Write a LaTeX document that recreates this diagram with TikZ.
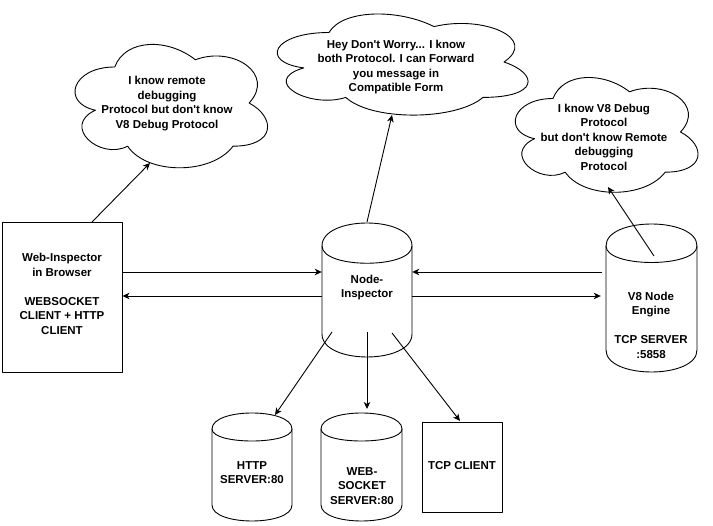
\documentclass[tikz,border=0pt]{standalone}
\usepackage{fontspec}
\setmainfont{Liberation Sans}[Ligatures=TeXOff]
\usetikzlibrary{arrows.meta,calc}
\tikzset{
  lbl/.style={font=\fontsize{11.5}{14.5}\selectfont\bfseries, align=center, inner sep=0pt},
  outline/.style={draw=black, line width=0.9pt, line join=round},
  arr/.style={draw=black, line width=0.9pt, -{Stealth[length=7pt,width=6.5pt,inset=2pt]}},
  boxnode/.style={outline, inner sep=0pt},
}
% cylinder: name, x, y, w, h, dy
\newcommand{\mycyl}[6]{%
  \draw[outline] ({#2},{#3+#6}) .. controls ({#2},{#3-#6/3}) and ({#2+#4},{#3-#6/3}) .. ({#2+#4},{#3+#6})
     -- ({#2+#4},{#3+#5-#6}) .. controls ({#2+#4},{#3+#5+#6/3}) and ({#2},{#3+#5+#6/3}) .. ({#2},{#3+#5-#6}) -- cycle;
  \draw[outline] ({#2},{#3+#6}) .. controls ({#2},{#3+2*#6}) and ({#2+#4},{#3+2*#6}) .. ({#2+#4},{#3+#6});
  \node[inner sep=0pt, minimum width=#4, minimum height=#5] (#1) at ({#2+#4/2},{#3+#5/2}) {};
}
% cloud: x0, y0, w, h, name
\newcommand{\mycloud}[5]{%
  \draw[outline] ({#1+0.25*#3},{#2+0.25*#4})
    .. controls ({#1+0.05*#3},{#2+0.25*#4}) and ({#1},{#2+0.5*#4}) .. ({#1+0.16*#3},{#2+0.55*#4})
    .. controls ({#1},{#2+0.66*#4}) and ({#1+0.18*#3},{#2+0.9*#4}) .. ({#1+0.31*#3},{#2+0.8*#4})
    .. controls ({#1+0.4*#3},{#2+#4}) and ({#1+0.7*#3},{#2+#4}) .. ({#1+0.8*#3},{#2+0.8*#4})
    .. controls ({#1+#3},{#2+0.8*#4}) and ({#1+#3},{#2+0.6*#4}) .. ({#1+0.875*#3},{#2+0.5*#4})
    .. controls ({#1+#3},{#2+0.3*#4}) and ({#1+0.8*#3},{#2+0.1*#4}) .. ({#1+0.625*#3},{#2+0.2*#4})
    .. controls ({#1+0.5*#3},{#2+0.05*#4}) and ({#1+0.3*#3},{#2+0.05*#4}) .. ({#1+0.25*#3},{#2+0.25*#4})
    -- cycle;
  \node[inner sep=0pt, minimum width=#3, minimum height=#4] (#5) at ({#1+0.5*#3},{#2+0.5*#4}) {};
}
\begin{document}
\begin{tikzpicture}[x=1pt, y=-1pt]
  \useasboundingbox[fill=white] (0,0) rectangle (713,526);

  % clouds
  \mycloud{61}{31}{215}{144}{cloudA}
  \mycloud{259}{3}{280}{118}{cloudB}
  \mycloud{502}{65}{204}{134}{cloudC}
  \node[lbl] (tA) at (167,103.5) {I know remote\\debugging\\Protocol but don't know\\V8 Debug Protocol};
  \node[lbl] (tB) at (396,67) {Hey Don't Worry... I know\\both Protocol. I can Forward\\you message in\\Compatible Form};
  \node[lbl] (tC) at (604,137) {I know V8 Debug\\Protocol\\but don't know Remote\\debugging\\Protocol};

  % boxes
  \node[boxnode, minimum width=120, minimum height=150] (wi) at (62,297) {};
  \node[lbl] (twi) at (62,294) {Web-Inspector\\in Browser\\[14.5pt]WEBSOCKET\\CLIENT + HTTP\\CLIENT};
  \node[boxnode, minimum width=80, minimum height=90] (tcp) at (462,467) {};
  \node[lbl] (ttcp) at (462,466) {TCP CLIENT};

  % cylinders
  \mycyl{ni}{322}{223}{90}{134}{23}
  \mycyl{v8}{606}{224}{91}{148}{22}
  \mycyl{http}{212}{413}{80}{108}{16}
  \mycyl{ws}{321}{413}{81}{108}{16}
  \node[lbl] (tni) at (367,287.5) {Node-\\Inspector};
  \node[lbl] (tv8) at (651,325) {V8 Node\\Engine\\[14.5pt]TCP SERVER\\:5858};
  \node[lbl] (thttp) at (252,472.5) {HTTP\\SERVER:80};
  \node[lbl] (tws) at (362,486) {WEB-\\SOCKET\\SERVER:80};

  % horizontal connectors
  \coordinate (ya) at (0,272);
  \coordinate (yb) at (0,296);
  \draw[arr] (wi.east |- ya) -- (ni.west |- ya);
  \draw[arr] (ni.west |- yb) -- (wi.east |- yb);
  \draw[arr] ($(v8.west |- ya)+(-4,0)$) -- (ni.east |- ya);
  \draw[arr] (ni.east |- yb) -- ($(v8.west |- yb)+(-5,0)$);

  % connectors to clouds
  \coordinate (wiTop) at (92,222);
  \coordinate (cA) at (150,163);
  \draw[arr] (wiTop) -- (cA);
  \coordinate (niTop) at (367,222);
  \coordinate (cB) at (392,115);
  \draw[arr] (niTop) -- (cB);
  \coordinate (v8In) at (654,256);
  \coordinate (cC) at (608,187);
  \draw[arr] (v8In) -- (cC);

  % connectors down
  \coordinate (niL) at (332,332);
  \coordinate (httpT) at (275,415);
  \draw[arr] (niL) -- (httpT);
  \coordinate (niM) at (367,332);
  \coordinate (wsT) at (367,409);
  \draw[arr] (niM) -- (wsT);
  \coordinate (niR) at (392,333);
  \coordinate (tcpT) at (460,421);
  \draw[arr] (niR) -- (tcpT);
\end{tikzpicture}
\end{document}
